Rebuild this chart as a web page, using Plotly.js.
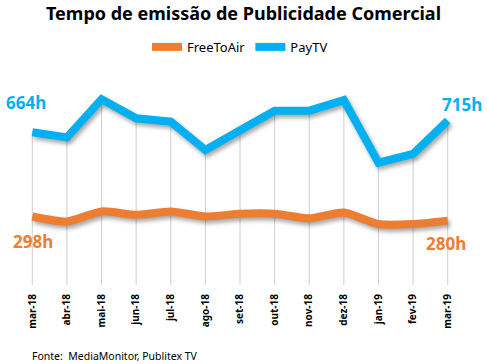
<!DOCTYPE html>
<html>
<head>
<meta charset="utf-8">
<script src="https://cdn.plot.ly/plotly-3.0.1.min.js"></script>
<style>
  html, body { margin: 0; padding: 0; background: #fff; }
  #chart { width: 487px; height: 364px; }
  .scatterlayer .trace .js-line { filter: drop-shadow(2px 3px 2px rgba(0,0,0,0.35)); }
</style>
</head>
<body>
<div id="chart"></div>
<script>
const months = ['mar-18','abr-18','mai-18','jun-18','jul-18','ago-18','set-18','out-18','nov-18','dez-18','jan-19','fev-19','mar-19'];
const freeToAir = [298, 276, 320, 305, 320, 298, 310, 310, 290, 315, 265, 265, 280];
const payTV = [664, 642, 808, 725, 710, 587, 673, 758, 758, 804, 532, 570, 715];
const seriesNames = ['FreeToAir', 'PayTV'];
const titleText = 'Tempo de emissão de Publicidade Comercial';
const sourceText = 'Fonte:  MediaMonitor, Publitex TV';

const ORANGE = '#ED7D31';
const BLUE = '#00B0F0';
const FONT = 'Noto Sans, Open Sans, sans-serif';

const dropMax = months.map((m, i) => Math.max(payTV[i], freeToAir[i]));

const traces = [
  {
    x: months, y: dropMax, type: 'scatter', mode: 'markers',
    marker: {size: 1, color: 'rgba(0,0,0,0)'},
    error_y: {type: 'data', symmetric: false, array: months.map(() => 0), arrayminus: dropMax,
              color: '#cfcfcf', thickness: 1, width: 0},
    showlegend: false, hoverinfo: 'skip'
  },
  {
    x: months, y: freeToAir, name: seriesNames[0], type: 'scatter', mode: 'lines',
    line: {color: ORANGE, width: 8, shape: 'spline', smoothing: 0.6}
  },
  {
    x: months, y: payTV, name: seriesNames[1], type: 'scatter', mode: 'lines',
    line: {color: BLUE, width: 8}
  }
];

const last = months.length - 1;
const annotations = [
  {x: months[0], y: payTV[0], text: '<b>' + payTV[0] + 'h</b>', showarrow: false,
   xshift: -6, yshift: 30, font: {family: FONT, size: 17, color: BLUE}},
  {x: months[0], y: freeToAir[0], text: '<b>' + freeToAir[0] + 'h</b>', showarrow: false,
   xshift: 1, yshift: -25, font: {family: FONT, size: 17, color: ORANGE}},
  {x: months[last], y: payTV[last], text: '<b>' + payTV[last] + 'h</b>', showarrow: false,
   xshift: 14, yshift: 16, font: {family: FONT, size: 17, color: BLUE}},
  {x: months[last], y: freeToAir[last], text: '<b>' + freeToAir[last] + 'h</b>', showarrow: false,
   xshift: -2, yshift: -23, font: {family: FONT, size: 17, color: ORANGE}},
  {xref: 'paper', yref: 'paper', x: 0.033, y: -0.343, xanchor: 'left', yanchor: 'middle',
   text: sourceText, showarrow: false, font: {family: FONT, size: 10.5, color: '#000'}}
];

const layout = {
  width: 487, height: 364,
  margin: {l: 15, r: 22, t: 78, b: 79},
  paper_bgcolor: '#fff', plot_bgcolor: '#fff',
  title: {text: '<b>' + titleText + '</b>', x: 0.5, xanchor: 'center', y: 0.962, yanchor: 'middle',
          font: {family: FONT, size: 18, color: '#000'}},
  showlegend: true,
  legend: {orientation: 'h', x: 0.5, xanchor: 'center', y: 1.15, yanchor: 'middle',
           font: {family: FONT, size: 13, color: '#000'}, traceorder: 'normal', itemwidth: 30},
  xaxis: {type: 'category', range: [-0.5, 12.5], showgrid: false, zeroline: false, showline: false,
          ticks: '', tickangle: -90, ticklabelstandoff: 6,
          tickfont: {family: FONT, size: 10, color: '#000', weight: 'bold'}},
  yaxis: {range: [0, 900], visible: false, showgrid: false, zeroline: false},
  annotations: annotations
};

Plotly.newPlot('chart', traces, layout, {displayModeBar: false, staticPlot: true});
</script>
</body>
</html>
